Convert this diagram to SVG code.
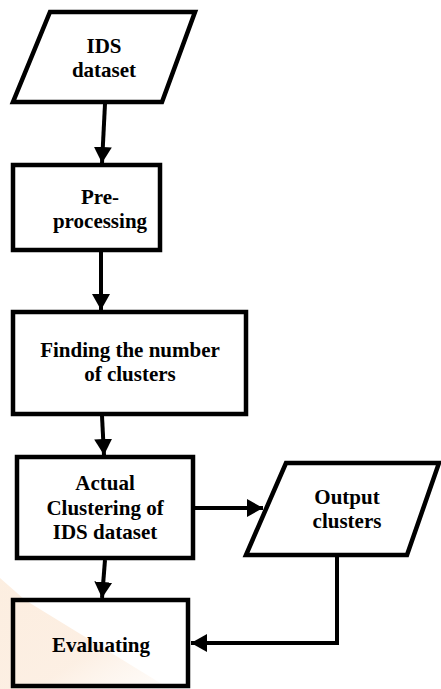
<svg xmlns="http://www.w3.org/2000/svg" width="441" height="689" viewBox="0 0 441 689">
  <style>
    .shape { fill: none; stroke: #000; stroke-width: 4.5; stroke-linejoin: miter; }
    .link { fill: none; stroke: #000; stroke-width: 4; }
    .label { font-family: 'Liberation Serif', 'Times New Roman', Times, serif; font-weight: 700; font-size: 21px; fill: #000; text-anchor: middle; }
  </style>
  <defs>
    <marker id="arrow" markerUnits="userSpaceOnUse" markerWidth="18" markerHeight="20" refX="16" refY="10" orient="auto">
      <path d="M0,1 L16,10 L0,19 Z" fill="#000"/>
    </marker>
    <linearGradient id="tint" x1="0" y1="0" x2="1" y2="1">
      <stop offset="0" stop-color="#f7cfa8" stop-opacity="0.35"/>
      <stop offset="0.6" stop-color="#f9dcc2" stop-opacity="0.45"/>
      <stop offset="1" stop-color="#fdf0e4" stop-opacity="0.2"/>
    </linearGradient>
  </defs>

  <rect width="441" height="689" fill="#fff"/>
  <!-- faint background tint, lower left -->
  <polygon points="0,578 25,600 170,689 0,689" fill="url(#tint)"/>

  <g id="connectors">
    <line class="link" x1="105" y1="104" x2="102" y2="163" marker-end="url(#arrow)"/>
    <line class="link" x1="101" y1="252" x2="101" y2="310" marker-end="url(#arrow)"/>
    <line class="link" x1="102" y1="416" x2="104" y2="455" marker-end="url(#arrow)"/>
    <line class="link" x1="195" y1="508" x2="263" y2="508" marker-end="url(#arrow)"/>
    <line class="link" x1="105" y1="560" x2="102" y2="598" marker-end="url(#arrow)"/>
    <polyline class="link" points="337,557 337,643 191,643" marker-end="url(#arrow)"/>
  </g>

  <g id="ids-dataset">
    <polygon class="shape" points="50,12 195,12 162,102 13,102"/>
    <text class="label" x="104" y="53">IDS</text>
    <text class="label" x="104" y="77">dataset</text>
  </g>

  <g id="pre-processing">
    <rect class="shape" x="13" y="165" width="147" height="85"/>
    <text class="label" x="100" y="204">Pre-</text>
    <text class="label" x="100" y="228">processing</text>
  </g>

  <g id="finding-clusters">
    <rect class="shape" x="13" y="312" width="233" height="102"/>
    <text class="label" x="130" y="357">Finding the number</text>
    <text class="label" x="130" y="381">of clusters</text>
  </g>

  <g id="actual-clustering">
    <rect class="shape" x="17" y="457" width="176" height="101"/>
    <text class="label" x="105" y="490">Actual</text>
    <text class="label" x="105" y="515">Clustering of</text>
    <text class="label" x="105" y="539">IDS dataset</text>
  </g>

  <g id="output-clusters">
    <polygon class="shape" points="286,463 439,463 407,555 246,555"/>
    <text class="label" x="347" y="504">Output</text>
    <text class="label" x="347" y="528">clusters</text>
  </g>

  <g id="evaluating">
    <rect class="shape" x="13" y="600" width="175" height="86"/>
    <text class="label" x="101" y="652">Evaluating</text>
  </g>
</svg>
